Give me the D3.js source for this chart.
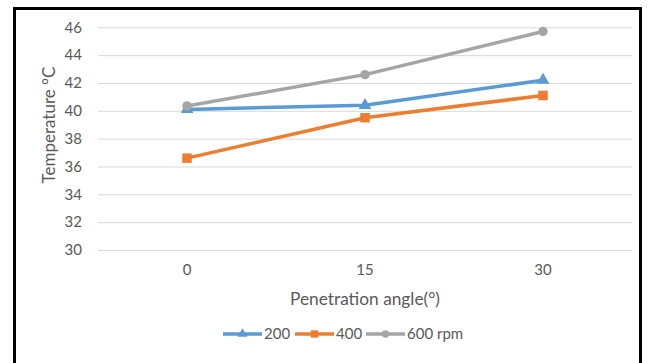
<!DOCTYPE html>
<html>
<head>
<meta charset="utf-8">
<script src="https://cdn.jsdelivr.net/npm/d3@7"></script>
<style>
  body { margin: 0; background: #fff; }
  text { font-family: Lato, "Open Sans", sans-serif; fill: #595959; }
</style>
</head>
<body>
<div id="chart"></div>
<script>
var width = 648,
    height = 363,
    colors = ['#5B9BD5', '#ED7D31', '#A5A5A5'];

// Data
var angles = ['0', '15', '30'];
var seriesNames = ['200', '400', '600 rpm'];
var rpm200 = [40.1, 40.4, 42.2];
var rpm400 = [36.6, 39.5, 41.1];
var rpm600 = [40.35, 42.6, 45.7];
var yTicks = [30, 32, 34, 36, 38, 40, 42, 44, 46];

var series = [rpm200, rpm400, rpm600].map(function(vals, i) {
    return {
        name: seriesNames[i],
        values: vals.map(function(v, j) { return {angle: angles[j], temp: v}; })
    };
});

var svg = d3.select('#chart')
    .append('svg')
    .attr('width', width)
    .attr('height', height);

// Outer frame
svg.append('rect')
    .attr('x', 14.5)
    .attr('y', 8.5)
    .attr('width', 626)
    .attr('height', 360)
    .attr('fill', 'none')
    .attr('stroke', '#000')
    .attr('stroke-width', 3);

var x = d3.scaleBand().domain(angles).range([98, 632]),
    y = d3.scaleLinear().domain([30, 46]).range([250, 27.3]);

// Gridlines + y labels
var yAxis = d3.axisLeft(y)
    .tickValues(yTicks)
    .tickSize(-(632 - 98))
    .tickPadding(16);

var gy = svg.append('g')
    .attr('transform', 'translate(98,0)')
    .call(yAxis);
gy.select('.domain').remove();
gy.selectAll('.tick line').attr('stroke', '#d9d9d9').attr('stroke-width', 1);
gy.selectAll('.tick text')
    .attr('font-size', 15)
    .attr('fill', '#595959')
    .style('font-family', 'Lato, sans-serif');

// x labels
var xAxis = d3.axisBottom(x).tickSize(0).tickPadding(12);
var gx = svg.append('g')
    .attr('transform', 'translate(0,' + 252 + ')')
    .call(xAxis);
gx.select('.domain').remove();
gx.selectAll('.tick text')
    .attr('font-size', 15)
    .attr('fill', '#595959')
    .style('font-family', 'Lato, sans-serif');

// Axis titles
svg.append('text')
    .attr('x', 365)
    .attr('y', 305)
    .attr('text-anchor', 'middle')
    .attr('font-size', 17.3)
    .text('Penetration angle(°)');

svg.append('text')
    .attr('transform', 'translate(55,125) rotate(-90)')
    .attr('text-anchor', 'middle')
    .attr('font-size', 17)
    .text('Temperature °C');

var cx = function(d) { return x(d.angle) + x.bandwidth() / 2; };

var line = d3.line()
    .x(cx)
    .y(function(d) { return y(d.temp); });

var symbols = [d3.symbolTriangle, d3.symbolSquare, d3.symbolCircle],
    symbolSizes = [70, 90, 70];

var g = svg.selectAll('.series')
    .data(series)
    .enter()
    .append('g')
    .attr('class', 'series');

g.append('path')
    .attr('d', function(d) { return line(d.values); })
    .attr('fill', 'none')
    .attr('stroke', function(d, i) { return colors[i]; })
    .attr('stroke-width', 3.5)
    .attr('stroke-linejoin', 'round');

g.each(function(s, i) {
    d3.select(this).selectAll('.marker')
        .data(s.values)
        .enter()
        .append('path')
        .attr('class', 'marker')
        .attr('transform', function(d) { return 'translate(' + cx(d) + ',' + y(d.temp) + ')'; })
        .attr('d', d3.symbol().type(symbols[i]).size(symbolSizes[i]))
        .attr('fill', colors[i]);
});

// Legend
var legendX = [223, 295, 366];
var legend = svg.selectAll('.legend')
    .data(series)
    .enter()
    .append('g')
    .attr('class', 'legend')
    .attr('transform', function(d, i) { return 'translate(' + legendX[i] + ',334)'; });

legend.append('line')
    .attr('x1', 0).attr('x2', 39)
    .attr('stroke', function(d, i) { return colors[i]; })
    .attr('stroke-width', 3.5);

legend.append('path')
    .attr('transform', 'translate(19.5,0)')
    .attr('d', function(d, i) { return d3.symbol().type(symbols[i]).size(symbolSizes[i] * 0.6)(); })
    .attr('fill', function(d, i) { return colors[i]; });

legend.append('text')
    .attr('x', 41)
    .attr('dy', '0.36em')
    .attr('font-size', 15)
    .text(function(d) { return d.name; });
</script>
</body>
</html>
